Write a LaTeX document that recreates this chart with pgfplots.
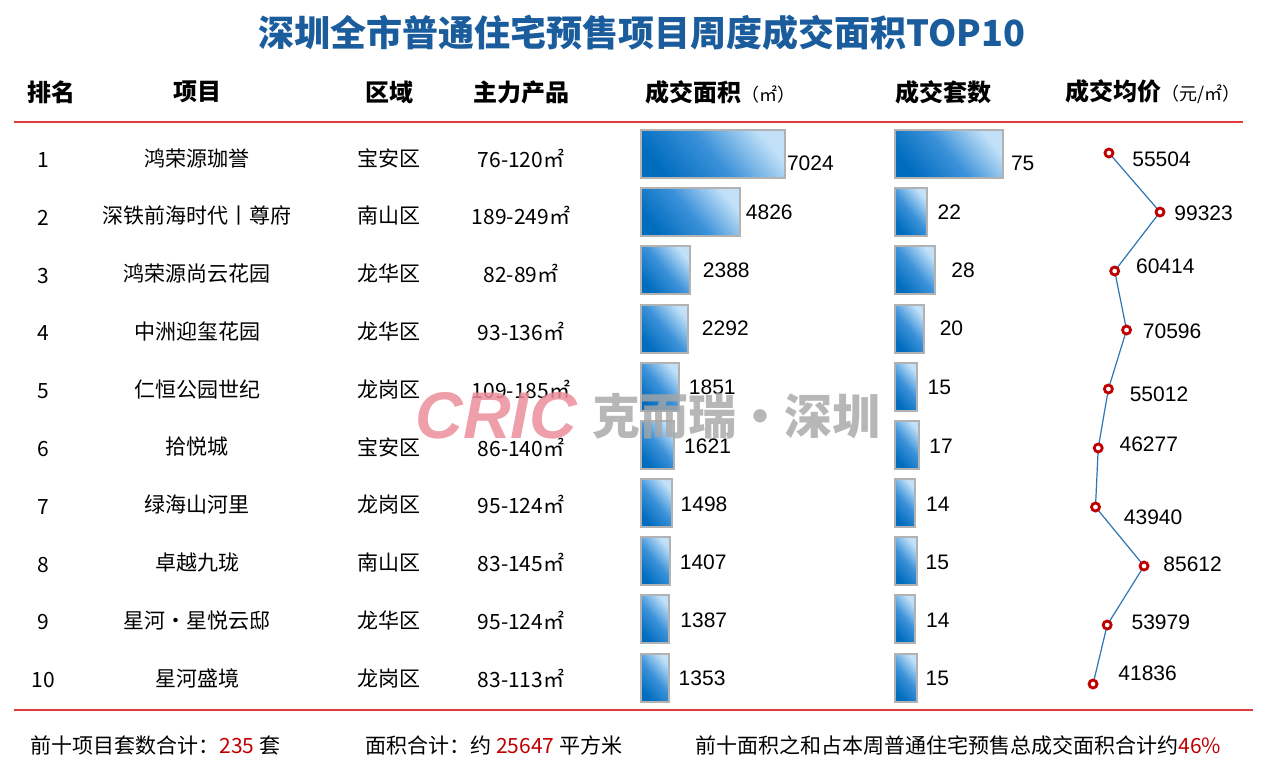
\documentclass[border=0pt]{standalone}
\usepackage{fontspec}
\setmainfont{Noto Sans CJK SC}
\newfontfamily\numfont{Liberation Sans}
\usepackage{pgfplots}
\pgfplotsset{compat=1.18}
\usepackage{pgfplotstable}

\definecolor{titleblue}{HTML}{1A5C9C}
\definecolor{linered}{HTML}{E23B3B}
\definecolor{darkred}{HTML}{C00000}
\definecolor{bardark}{HTML}{006CBE}
\definecolor{barmid}{HTML}{3C92D9}
\definecolor{barlight}{HTML}{C2E1F8}
\definecolor{pline}{HTML}{2E75B6}
\definecolor{wmpink}{HTML}{EC8F9C}

\newcommand\rowfont{\fontsize{10.5pt}{12pt}\selectfont}
\newcommand\headfont{\fontsize{12pt}{14pt}\selectfont\bfseries}
\newcommand\lblfont{\numfont\fontsize{10.5pt}{12pt}\selectfont}

% rank, area (m2), units, label offsets in px
\pgfplotstableread{
rank area units dxa dya dxu dyu
1 7024 75 1 9 7 9
2 4826 22 5 0 10 0
3 2388 28 12 0 15 0
4 2292 20 13 0 15 0
5 1851 15 9 1 10 1
6 1621 17 9 1 9 1
7 1498 14 8 1 10 1
8 1407 15 9 1 8 1
9 1387 14 10 1 10 1
10 1353 15 9 1 8 1
}\bars

\pgfplotstableread{
rank price dx dy
1 55504 22 6
2 99323 13 1
3 60414 20 -5
4 70596 15 1
5 55012 20 5
6 46277 20 -4
7 43940 27 10
8 85612 18 -2
9 53979 23 -3
10 41836 24 -11
}\prices

\pgfplotsset{
  rowaxis/.style={
    scale only axis, anchor=north west, hide axis, clip=false,
    ymin=0.5, ymax=10.5, y dir=reverse,
    point meta=explicit symbolic,
    nodes near coords={\pgfplotspointmeta},
  },
  barstyle/.style={draw=gray!60, line width=1pt,
    top color=barlight, bottom color=bardark, middle color=barmid, shading angle=-50},
}

\begin{document}
\begin{tikzpicture}[x=0.5pt, y=-0.5pt]
\path[use as bounding box, fill=white] (0,0) rectangle (1280,771);
\coordinate (areaNW) at (641,124.9);
\coordinate (unitNW) at (895,124.9);
\coordinate (priceNW) at (1044.3,123.5);

% title
\node[font=\fontsize{18pt}{21pt}\selectfont\bfseries, text=titleblue] at (642,33) {深圳全市普通住宅预售项目周度成交面积TOP10};

% header
\node[font=\headfont] at (51,92) {排名};
\node[font=\headfont] at (197,92) {项目};
\node[font=\headfont] at (389,92) {区域};
\node[font=\headfont] at (521,92) {主力产品};
\node[anchor=west, inner sep=0pt] at (645,92) {{\headfont 成交面积}{\fontsize{9pt}{10pt}\selectfont （㎡）}};
\node[anchor=west, inner sep=0pt] at (895,92) {{\headfont 成交套数}};
\node[anchor=west, inner sep=0pt] at (1065,92) {{\headfont 成交均价}{\fontsize{9pt}{10pt}\selectfont （元/㎡）}};

\draw[linered, line width=1pt] (14,122) -- (1243,122);
\draw[linered, line width=1pt] (14,710) -- (1253,710);

% text columns
\foreach \r/\nm/\ds/\pr in {
  1/鸿荣源珈誉/宝安区/76-120㎡,
  2/深铁前海时代丨尊府/南山区/189-249㎡,
  3/鸿荣源尚云花园/龙华区/82-89㎡,
  4/中洲迎玺花园/龙华区/93-136㎡,
  5/仁恒公园世纪/龙岗区/109-185㎡,
  6/拾悦城/宝安区/86-140㎡,
  7/绿海山河里/龙岗区/95-124㎡,
  8/卓越九珑/南山区/83-145㎡,
  9/星河・星悦云邸/龙华区/95-124㎡,
  10/星河盛境/龙岗区/83-113㎡}{
  \pgfmathsetmacro\yy{158+(\r-1)*57.8}
  \node[font=\rowfont] at (43,\yy+2) {\r};
  \node[font=\rowfont] at (197,\yy) {\nm};
  \node[font=\rowfont] at (389,\yy) {\ds};
  \node[font=\rowfont] at (521,\yy) {\pr};
}

% area bars (one plot per bar so that each bar gets its own gradient)
\begin{axis}[rowaxis, at={(areaNW)}, width=102.5pt, height=290.85pt,
  xmin=0, xmax=10000, xbar, bar width=24pt, bar shift=0pt,
  visualization depends on={\thisrow{dxa} \as \dx},
  visualization depends on={\thisrow{dya} \as \dy},
  every node near coord/.append style={anchor=west, inner sep=0pt, text=black,
    xshift={0.5pt*(\dx)}, yshift={-0.5pt*(\dy)}, font=\lblfont}]
\pgfplotsinvokeforeach{0,...,9}{
  \addplot[barstyle, restrict expr to domain={\coordindex}{#1:#1}]
    table[x=area, y=rank, meta=area] {\bars};
}
\end{axis}

% unit bars
\begin{axis}[rowaxis, at={(unitNW)}, width=72pt, height=290.85pt,
  xmin=0, xmax=100, xbar, bar width=24pt, bar shift=0pt,
  visualization depends on={\thisrow{dxu} \as \dx},
  visualization depends on={\thisrow{dyu} \as \dy},
  every node near coord/.append style={anchor=west, inner sep=0pt, text=black,
    xshift={0.5pt*(\dx)}, yshift={-0.5pt*(\dy)}, font=\lblfont}]
\pgfplotsinvokeforeach{0,...,9}{
  \addplot[barstyle, restrict expr to domain={\coordindex}{#1:#1}]
    table[x=units, y=rank, meta=units] {\bars};
}
\end{axis}

% average price
\begin{axis}[rowaxis, at={(priceNW)}, width=69.9pt, height=295pt,
  xmin=0, xmax=120000,
  visualization depends on={\thisrow{dx} \as \dx},
  visualization depends on={\thisrow{dy} \as \dy},
  every node near coord/.append style={anchor=west, inner sep=0pt, text=black,
    xshift={0.5pt*(\dx)}, yshift={-0.5pt*(\dy)}, font=\lblfont}]
\addplot[pline, line width=0.6pt, mark=*, mark size=2pt,
  mark options={draw=darkred, fill=white, line width=1.4pt}]
  table[x=price, y=rank, meta=price] {\prices};
\end{axis}

% footer
\node[anchor=west, inner sep=0pt, font=\rowfont] at (30,745) {前十项目套数合计：\textcolor{darkred}{235} 套};
\node[anchor=west, inner sep=0pt, font=\rowfont] at (365,745) {面积合计：约 \textcolor{darkred}{25647} 平方米};
\node[anchor=west, inner sep=0pt, font=\rowfont] at (695,745) {前十面积之和占本周普通住宅预售总成交面积合计约\textcolor{darkred}{46\%}};

% watermark
\node[anchor=west, inner sep=0pt, text=wmpink, text opacity=0.85,
  font=\numfont\bfseries\itshape\fontsize{33pt}{36pt}\selectfont] at (415,416) {CRIC};
\node[anchor=west, inner sep=0pt, text=gray!70, text opacity=0.8,
  font=\bfseries\fontsize{24pt}{26pt}\selectfont] at (592,416) {克而瑞・深圳};
\end{tikzpicture}
\end{document}
